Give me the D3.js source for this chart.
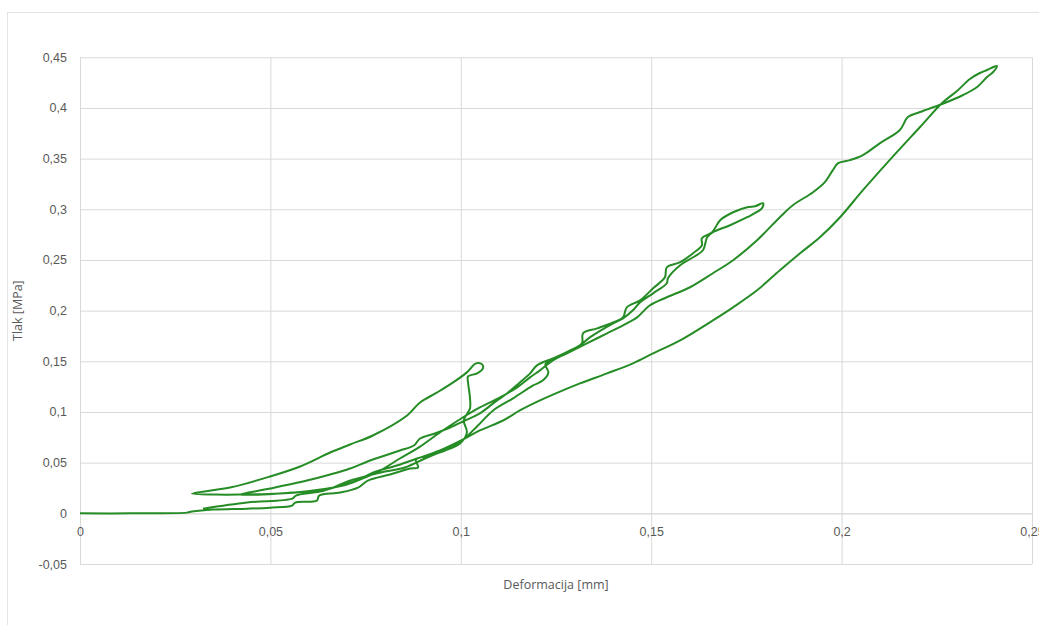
<!DOCTYPE html>
<html>
<head>
<meta charset="utf-8">
<script src="https://cdn.jsdelivr.net/npm/d3@7"></script>
<style>
  html, body { margin: 0; padding: 0; background: #ffffff; }
  svg { display: block; font-family: "Open Sans", "Noto Sans", sans-serif; }
</style>
</head>
<body>
<svg id="chart" width="1039" height="625"></svg>
<script>
// ---- Data (Deformacija [mm], Tlak [MPa]) ----
const xTicks = [0, 0.05, 0.1, 0.15, 0.2, 0.25];
const yTicks = [-0.05, 0, 0.05, 0.1, 0.15, 0.2, 0.25, 0.3, 0.35, 0.4, 0.45];
const xTitle = "Deformacija [mm]";
const yTitle = "Tlak [MPa]";

// first cycle: initial loading, hold at peak, branch back to first reversal
const cycle1 = [
  [0, 0], [0.0131, 0], [0.0281, 0.0007], [0.0294, 0.0017], [0.0349, 0.0037],
  [0.0439, 0.0046], [0.0499, 0.0056], [0.0557, 0.0076], [0.0565, 0.0106],
  [0.0622, 0.0125], [0.0628, 0.0175], [0.0683, 0.0205], [0.0730, 0.0254],
  [0.0756, 0.0323], [0.0814, 0.0383], [0.0867, 0.0442], [0.0888, 0.0452],
  [0.0882, 0.0531], [0.0919, 0.0570], [0.0959, 0.0620], [0.0998, 0.0689],
  [0.1016, 0.0798], [0.1008, 0.0916], [0.1024, 0.1035], [0.1024, 0.1144],
  [0.1019, 0.1292], [0.1019, 0.1351], [0.1043, 0.1381], [0.1058, 0.1430],
  [0.1056, 0.1470], [0.1040, 0.1480], [0.1016, 0.1391], [0.0980, 0.1292],
  [0.0938, 0.1193], [0.0893, 0.1094], [0.0859, 0.0966], [0.0769, 0.0768],
  [0.0709, 0.0679], [0.0657, 0.0600], [0.0578, 0.0462], [0.0499, 0.0363],
  [0.0394, 0.0254], [0.0294, 0.0195]
];

// second cycle: reloading to ~0.3 MPa
const load2 = [
  [0.0355, 0.0185], [0.0420, 0.0185], [0.0525, 0.0195], [0.0596, 0.0215],
  [0.0657, 0.0244], [0.0701, 0.0313], [0.0748, 0.0363], [0.0801, 0.0412],
  [0.0853, 0.0452], [0.0906, 0.0541], [0.0959, 0.0630], [0.1003, 0.0719],
  [0.1045, 0.0867], [0.1085, 0.1015], [0.1137, 0.1134], [0.1190, 0.1262],
  [0.1216, 0.1312], [0.1230, 0.1390], [0.1222, 0.1470], [0.1239, 0.1509],
  [0.1279, 0.1588], [0.1313, 0.1657], [0.1339, 0.1736], [0.1400, 0.1874],
  [0.1426, 0.1924], [0.1452, 0.2003], [0.1471, 0.2082], [0.1505, 0.2171],
  [0.1541, 0.2270], [0.1544, 0.2319], [0.1576, 0.2448], [0.1610, 0.2527],
  [0.1636, 0.2596], [0.1647, 0.2724], [0.1662, 0.2774], [0.1707, 0.2843],
  [0.1752, 0.2922], [0.1791, 0.3011], [0.1794, 0.3060]
];

// second cycle: unloading branch
const unload2 = [
  [0.1773, 0.3031], [0.1752, 0.3021], [0.1715, 0.2971], [0.1681, 0.2892],
  [0.1660, 0.2774], [0.1633, 0.2714], [0.1633, 0.2645], [0.1610, 0.2567],
  [0.1576, 0.2478], [0.1541, 0.2428], [0.1536, 0.2329], [0.1505, 0.2221],
  [0.1471, 0.2102], [0.1436, 0.2033], [0.1426, 0.1934], [0.1400, 0.1885],
  [0.1358, 0.1825], [0.1321, 0.1776], [0.1318, 0.1677], [0.1287, 0.1608],
  [0.1242, 0.1529], [0.1200, 0.1460], [0.1182, 0.1381], [0.1155, 0.1292],
  [0.1121, 0.1183], [0.1085, 0.1085], [0.1050, 0.0986], [0.1011, 0.0916],
  [0.0972, 0.0847], [0.0932, 0.0788], [0.0893, 0.0738], [0.0877, 0.0669],
  [0.0840, 0.0620], [0.0801, 0.0570], [0.0762, 0.0521], [0.0709, 0.0442],
  [0.0657, 0.0383], [0.0596, 0.0323], [0.0499, 0.0244], [0.0420, 0.0185]
];

// third cycle: reloading to ~0.44 MPa
const load3 = [
  [0.0481, 0.0185], [0.0559, 0.0205], [0.0612, 0.0225], [0.0691, 0.0274],
  [0.0735, 0.0333], [0.0788, 0.0422], [0.0840, 0.0541], [0.0893, 0.0659],
  [0.0945, 0.0798], [0.1001, 0.0936], [0.1050, 0.1045], [0.1103, 0.1144],
  [0.1148, 0.1243], [0.1182, 0.1342], [0.1208, 0.1411], [0.1242, 0.1509],
  [0.1279, 0.1579], [0.1331, 0.1677], [0.1384, 0.1776], [0.1436, 0.1875],
  [0.1463, 0.1934], [0.1497, 0.2053], [0.1541, 0.2132], [0.1602, 0.2231],
  [0.1662, 0.2369], [0.1715, 0.2498], [0.1778, 0.2695], [0.1838, 0.2922],
  [0.1872, 0.3040], [0.1925, 0.3169], [0.1956, 0.3268], [0.1977, 0.3387],
  [0.1991, 0.3456], [0.2022, 0.3485], [0.2056, 0.3535], [0.2101, 0.3653],
  [0.2153, 0.3782], [0.2174, 0.3910], [0.2206, 0.3960], [0.2264, 0.4039],
  [0.2319, 0.4128], [0.2356, 0.4207], [0.2382, 0.4306], [0.2398, 0.4355],
  [0.2408, 0.4414]
];

// third cycle: final unloading
const unload3 = [
  [0.2382, 0.4375], [0.2363, 0.4345], [0.2337, 0.4286], [0.2303, 0.4167],
  [0.2264, 0.4049], [0.2206, 0.3812], [0.2119, 0.3456], [0.2056, 0.3189],
  [0.1996, 0.2922], [0.1943, 0.2724], [0.1891, 0.2566], [0.1838, 0.2398],
  [0.1778, 0.2201], [0.1715, 0.2033], [0.1662, 0.1904], [0.1576, 0.1707],
  [0.1505, 0.1578], [0.1452, 0.1480], [0.1384, 0.1381], [0.1313, 0.1282],
  [0.1268, 0.1213], [0.1208, 0.1114], [0.1155, 0.1015], [0.1111, 0.0916],
  [0.1050, 0.0818], [0.1001, 0.0719], [0.0945, 0.0620], [0.0885, 0.0541],
  [0.0832, 0.0472], [0.0769, 0.0402], [0.0727, 0.0323], [0.0691, 0.0284],
  [0.0630, 0.0215], [0.0567, 0.0175], [0.0557, 0.0145], [0.0439, 0.0106],
  [0.0323, 0.0046]
];

const series = [].concat(cycle1, load2, unload2, load3, unload3);

// ---- Layout ----
const svg = d3.select("#chart");
const pLeft = 80, pRight = 1032, pTop = 57.3, pBottom = 564;
const x = d3.scaleLinear().domain([0, 0.25]).range([pLeft, pRight]);
const y = d3.scaleLinear().domain([-0.05, 0.45]).range([pBottom, pTop]);
const fmt = d => String(d).replace(".", ",");
const gridColor = "#d9d9d9";
const textColor = "#595959";
const fontSize = "12.5px";

// chart border
svg.append("rect")
  .attr("x", 7.5).attr("y", 12.5)
  .attr("width", 1040).attr("height", 620)
  .attr("fill", "none").attr("stroke", "#e3e3e3");

// horizontal gridlines + y labels
const gy = svg.append("g")
  .attr("transform", `translate(${pLeft},0)`)
  .call(d3.axisLeft(y).tickValues(yTicks).tickFormat(fmt)
    .tickSize(-(pRight - pLeft)).tickPadding(13));
gy.select(".domain").remove();
gy.selectAll(".tick line").attr("stroke", gridColor);
gy.selectAll(".tick text").attr("fill", textColor).style("font-size", fontSize);

// vertical gridlines
const gx = svg.append("g")
  .attr("transform", `translate(0,${pBottom})`)
  .call(d3.axisBottom(x).tickValues(xTicks).tickFormat("")
    .tickSize(-(pBottom - pTop)));
gx.select(".domain").remove();
gx.selectAll(".tick line").attr("stroke", gridColor);

// x labels at the zero line
const gx0 = svg.append("g")
  .attr("transform", `translate(0,${y(0)})`)
  .call(d3.axisBottom(x).tickValues(xTicks).tickFormat(fmt)
    .tickSize(0).tickPadding(14));
gx0.select(".domain").attr("stroke", gridColor);
gx0.selectAll(".tick text").attr("fill", textColor).style("font-size", fontSize);

// axis titles
svg.append("text")
  .attr("x", (pLeft + pRight) / 2).attr("y", 589)
  .attr("text-anchor", "middle")
  .attr("fill", textColor).style("font-size", fontSize)
  .text(xTitle);
svg.append("text")
  .attr("transform", `translate(22,${(pTop + pBottom) / 2}) rotate(-90)`)
  .attr("text-anchor", "middle")
  .attr("fill", textColor).style("font-size", fontSize)
  .text(yTitle);

// data line
const line = d3.line()
  .x(d => x(d[0])).y(d => y(d[1]))
  .curve(d3.curveCatmullRom.alpha(0.5));
svg.append("path")
  .datum(series)
  .attr("d", line)
  .attr("fill", "none")
  .attr("stroke", "#268c26")
  .attr("stroke-width", 2)
  .attr("stroke-linejoin", "round");
</script>
</body>
</html>
